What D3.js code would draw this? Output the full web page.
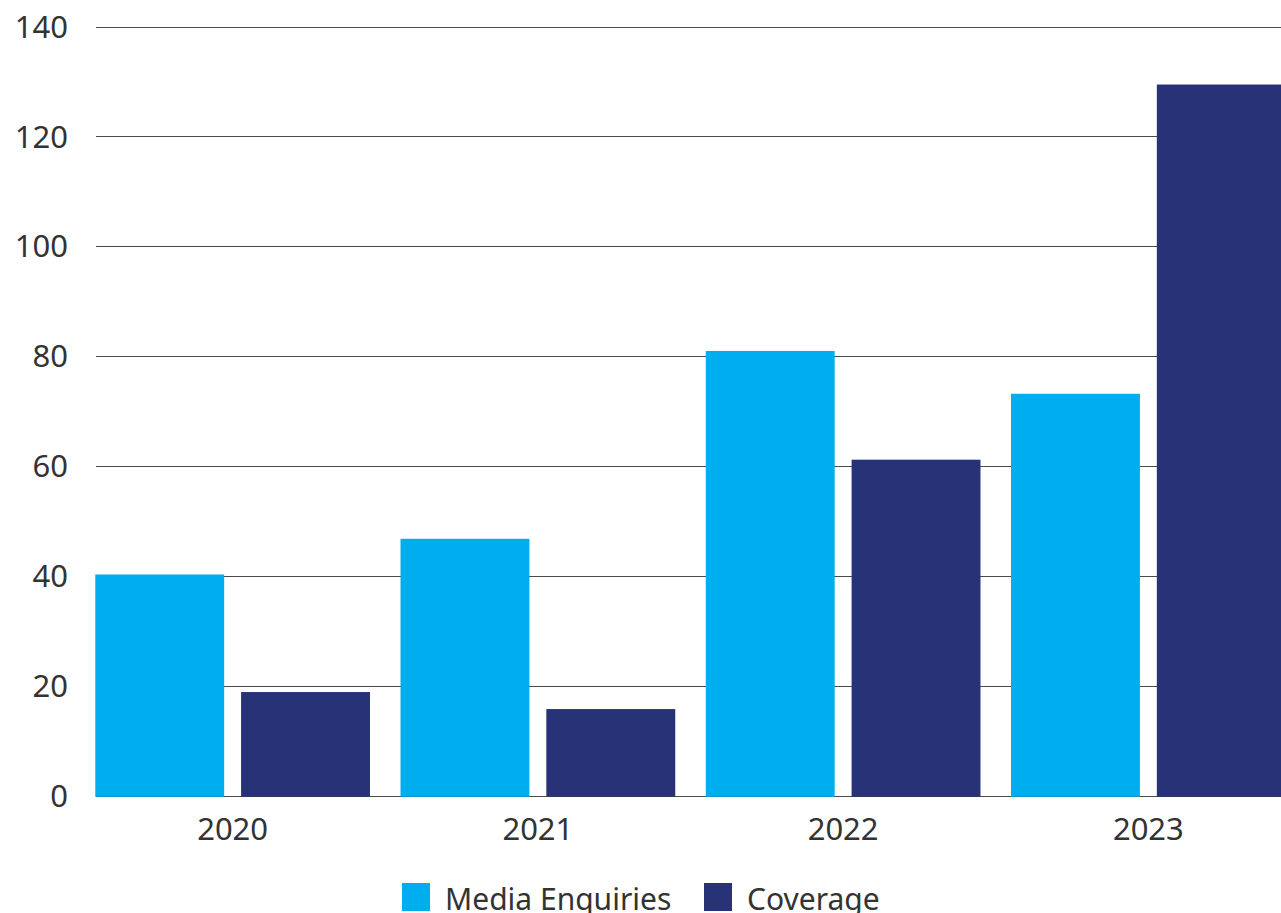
<!DOCTYPE html>
<html>
<head>
<meta charset="utf-8">
<script src="https://cdn.jsdelivr.net/npm/d3@7"></script>
<style>
  html, body { margin: 0; padding: 0; background: #fff; overflow: hidden; }
  svg { display: block; font-family: "Noto Sans", sans-serif; }
</style>
</head>
<body>
<div id="chart"></div>
<script>
// data
const years = ['2020', '2021', '2022', '2023'];
const seriesNames = ['Media Enquiries', 'Coverage'];
const mediaEnquiries = [40, 46.5, 80.7, 72.9];
const coverage = [18.6, 15.5, 60.9, 129.2];
const yTicks = [0, 20, 40, 60, 80, 100, 120, 140];
const colors = ['#00aeef', '#283276'];

const W = 1281, H = 913;

const svg = d3.select('#chart')
  .append('svg')
  .attr('width', W)
  .attr('height', H);

const rows = years.map((y, i) => ({ year: y, values: [mediaEnquiries[i], coverage[i]] }));

const x0 = d3.scaleBand()
  .domain(years)
  .range([80, 1301])
  .paddingInner(0.1)
  .paddingOuter(0.05);

const x1 = d3.scaleBand()
  .domain(seriesNames)
  .range([0, x0.bandwidth()])
  .paddingInner(0.116);

const y = d3.scaleLinear()
  .domain([0, 140])
  .range([795.5, 26.5]);

// grid lines
svg.append('g')
  .attr('class', 'grid')
  .selectAll('line')
  .data(yTicks)
  .enter()
  .append('line')
  .attr('x1', 96)
  .attr('x2', W)
  .attr('y1', (d) => Math.round(y(d)) + 0.5)
  .attr('y2', (d) => Math.round(y(d)) + 0.5)
  .attr('stroke', '#4a4a4a')
  .attr('stroke-width', 1.2);

// y labels
svg.append('g')
  .selectAll('text')
  .data(yTicks)
  .enter()
  .append('text')
  .attr('x', 68)
  .attr('y', (d) => y(d))
  .attr('dy', '0.36em')
  .attr('text-anchor', 'end')
  .attr('fill', '#333')
  .style('font-size', '31px')
  .text((d) => d);

// bars
const groups = svg.append('g')
  .selectAll('g.year')
  .data(rows)
  .enter()
  .append('g')
  .attr('class', 'year')
  .attr('transform', (d) => `translate(${x0(d.year)},0)`);

groups.selectAll('rect')
  .data((d) => d.values.map((v, i) => ({ name: seriesNames[i], value: v, i })))
  .enter()
  .append('rect')
  .attr('x', (d) => x1(d.name))
  .attr('width', x1.bandwidth())
  .attr('y', (d) => y(d.value) - 1.3)
  .attr('height', (d) => y(0) - y(d.value) + 2.6)
  .attr('fill', (d) => colors[d.i]);

// x labels
svg.append('g')
  .selectAll('text')
  .data(years)
  .enter()
  .append('text')
  .attr('x', (d) => x0(d) + x0.bandwidth() / 2)
  .attr('y', 840)
  .attr('text-anchor', 'middle')
  .attr('fill', '#333')
  .style('font-size', '31px')
  .text((d) => d);

// legend
const legendX = [402, 704];
const legend = svg.append('g')
  .selectAll('g.legend')
  .data(seriesNames)
  .enter()
  .append('g')
  .attr('class', 'legend')
  .attr('transform', (d, i) => `translate(${legendX[i]},883)`);

legend.append('rect')
  .attr('width', 28)
  .attr('height', 28)
  .attr('fill', (d, i) => colors[i]);

legend.append('text')
  .attr('x', 43)
  .attr('y', 27)
  .attr('fill', '#333')
  .style('font-size', '30px')
  .text((d) => d);
</script>
</body>
</html>
